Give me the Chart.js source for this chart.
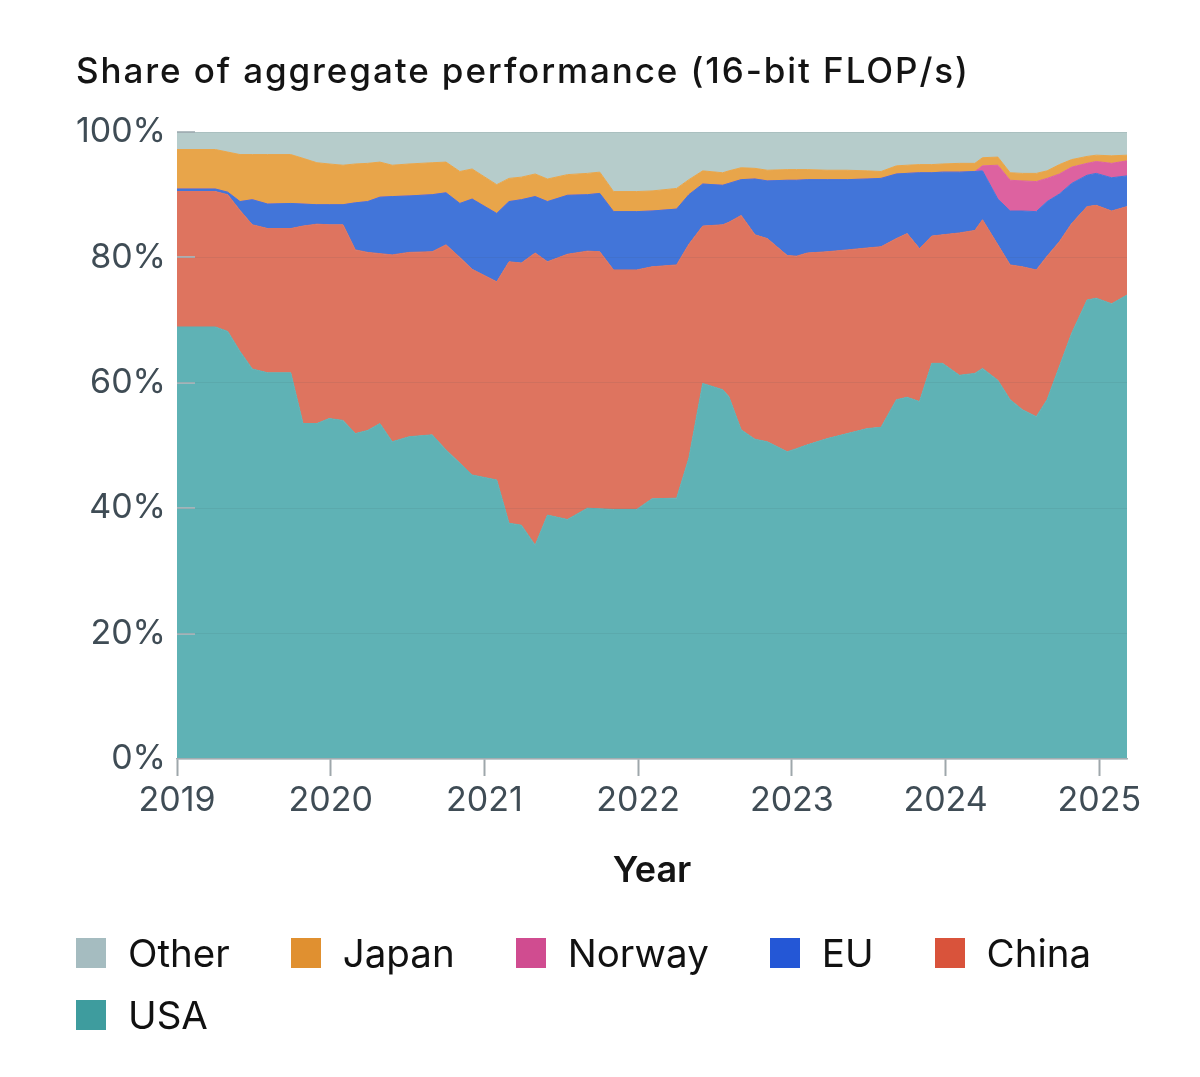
<!DOCTYPE html>
<html>
<head>
<meta charset="utf-8">
<script src="https://cdn.jsdelivr.net/npm/chart.js@4.4.1/dist/chart.umd.min.js"></script>
<style>
html,body{margin:0;padding:0;background:#fff;}
#wrap{position:relative;width:1200px;height:1077px;}
#legend{position:absolute;left:76px;top:933px;width:1100px;display:flex;flex-wrap:wrap;font-family:Inter,"Noto Sans",sans-serif;font-size:38.5px;color:#111;}
.item{display:flex;align-items:center;margin-right:61px;height:40px;margin-bottom:22px;white-space:nowrap;}
.sw{width:30px;height:30px;margin-right:22px;flex:none;}
</style>
</head>
<body>
<div id="wrap">
<canvas id="c" width="1200" height="1077"></canvas>
<div id="legend"></div>
</div>
<script>
// x positions (decimal year)
const years = [2019.00,2019.25,2019.33,2019.41,2019.49,2019.59,2019.74,2019.82,2019.91,2019.99,
2020.08,2020.16,2020.24,2020.32,2020.40,2020.51,2020.66,2020.75,2020.84,2020.92,
2021.08,2021.16,2021.24,2021.33,2021.41,2021.54,2021.67,2021.75,2021.84,2021.99,
2022.09,2022.25,2022.33,2022.42,2022.55,2022.59,2022.67,2022.76,2022.84,2022.97,
2023.03,2023.10,2023.23,2023.36,2023.49,2023.58,2023.68,2023.75,2023.83,2023.91,2023.98,
2024.09,2024.19,2024.24,2024.34,2024.42,2024.50,2024.59,2024.66,2024.74,2024.82,2024.92,2024.98,
2025.08,2025.18];

// shares (%)
const usa = [68.9,68.9,68.2,65.0,62.2,61.6,61.6,53.5,53.5,54.3,
54.0,51.9,52.4,53.5,50.6,51.4,51.7,49.3,47.2,45.3,
44.5,37.6,37.3,34.1,38.9,38.2,40.0,39.9,39.8,39.8,
41.5,41.6,48.0,59.9,58.9,57.8,52.5,51.0,50.6,49.0,
49.5,50.1,51.1,51.9,52.7,52.9,57.3,57.7,57.0,63.1,63.1,
61.2,61.5,62.3,60.4,57.3,55.7,54.6,57.3,62.6,67.9,73.2,73.5,
72.6,74.0];
const china = [21.6,21.6,21.8,22.5,23.0,23.0,23.0,31.5,31.8,30.9,
31.2,29.3,28.4,27.1,29.8,29.4,29.2,32.7,32.8,32.8,
31.6,41.7,41.8,46.6,40.4,42.3,41.0,41.0,38.2,38.2,
37.0,37.2,34.1,25.1,26.3,27.8,34.2,32.6,32.4,31.3,
30.7,30.6,29.8,29.3,28.8,28.8,25.7,26.1,24.4,20.3,20.5,
22.7,22.8,23.7,21.6,21.5,22.8,23.4,22.9,19.9,17.5,14.9,14.8,
14.8,14.1];
const eu = [0.4,0.4,0.4,1.4,4.0,3.9,4.0,3.5,3.1,3.2,
3.2,7.5,8.1,9.0,9.3,9.0,9.1,8.3,8.6,11.2,
10.9,9.6,10.1,9.0,9.6,9.4,9.0,9.3,9.3,9.3,
8.9,8.9,7.9,6.7,6.3,6.2,5.7,8.9,9.2,12.0,
12.1,11.7,11.5,11.2,11.0,10.9,10.3,9.6,12.1,10.1,10.0,
9.7,9.4,7.8,7.3,8.6,8.9,9.3,8.7,7.6,6.4,5.0,5.1,
5.3,4.9];
const norway = [0,0,0,0,0,0,0,0,0,0,
0,0,0,0,0,0,0,0,0,0,
0,0,0,0,0,0,0,0,0,0,
0,0,0,0,0,0,0,0,0,0,
0,0,0,0,0,0,0,0,0,0,0,
0,0,0.8,5.4,4.9,4.8,4.8,3.7,3.2,2.6,1.9,1.9,
2.3,2.4];
const japan = [6.3,6.3,6.4,7.5,7.2,7.9,7.8,7.3,6.7,6.5,
6.3,6.2,6.1,5.6,5.0,5.1,5.1,4.9,5.1,4.8,
4.6,3.7,3.6,3.6,3.6,3.3,3.4,3.4,3.2,3.2,
3.2,3.3,2.4,2.1,2.0,2.0,1.9,1.7,1.7,1.7,
1.7,1.6,1.5,1.5,1.3,1.1,1.3,1.3,1.3,1.3,1.3,
1.4,1.3,1.3,1.3,1.2,1.2,1.3,1.2,1.5,1.2,1.1,1.0,
1.2,0.9];
const other = [2.8,2.8,3.2,3.6,3.6,3.6,3.6,4.2,4.9,5.1,
5.3,5.1,5.0,4.8,5.3,5.1,4.9,4.8,6.3,5.9,
8.4,7.4,7.2,6.7,7.5,6.8,6.6,6.4,9.5,9.5,
9.4,9.0,7.6,6.2,6.5,6.2,5.7,5.8,6.1,6.0,
6.0,6.0,6.1,6.1,6.2,6.3,5.4,5.3,5.2,5.2,5.1,
5.0,5.0,4.1,4.0,6.5,6.6,6.6,6.2,5.2,4.4,3.9,3.7,
3.8,3.7];

const yTicks = [0,20,40,60,80,100];
const xTicks = [2019,2020,2021,2022,2023,2024,2025];

// stacking order bottom -> top
const series = [
  {name:'USA',    values:usa,    fill:'#5fb2b5', key:'#3e9c9e'},
  {name:'China',  values:china,  fill:'#de745f', key:'#d9533b'},
  {name:'EU',     values:eu,     fill:'#4275d9', key:'#2457d6'},
  {name:'Norway', values:norway, fill:'#dd62a0', key:'#d04c90'},
  {name:'Japan',  values:japan,  fill:'#e8a54a', key:'#e09030'},
  {name:'Other',  values:other,  fill:'#b6cccb', key:'#a5bcc0'}
];
const legendOrder = ['Other','Japan','Norway','EU','China','USA'];

const datasets = series.map((s,i)=>({
  label:s.name,
  data: years.map((x,j)=>({x:x, y:s.values[j]})),
  backgroundColor:s.fill,
  borderColor:s.fill,
  borderWidth:1,
  pointRadius:0,
  tension:0,
  fill: i===0 ? 'origin' : '-1'
}));

// wider tracking for the title only: the title is the only layer drawn before the datasets
const titleTracking = {
  id:'titleTracking',
  beforeDraw(chart){ chart.ctx.letterSpacing = '1.9px'; },
  beforeDatasetsDraw(chart){ chart.ctx.letterSpacing = '0px'; }
};

const leftDash = {
  id:'leftDash',
  afterDatasetsDraw(chart){
    const {ctx, chartArea, scales:{y}} = chart;
    ctx.save();
    ctx.strokeStyle = 'rgba(170,182,186,0.9)';
    ctx.lineWidth = 2;
    yTicks.forEach(v=>{
      if (v===0) return;
      const py = Math.round(y.getPixelForValue(v));
      ctx.beginPath();
      ctx.moveTo(chartArea.left, py);
      ctx.lineTo(chartArea.left+18, py);
      ctx.stroke();
    });
    ctx.restore();
  }
};

new Chart(document.getElementById('c'), {
  type:'line',
  data:{datasets},
  plugins:[titleTracking, leftDash],
  options:{
    responsive:false,
    animation:false,
    events:[],
    layout:{padding:{left:76,right:73,top:0,bottom:184}},
    plugins:{
      legend:{display:false},
      tooltip:{enabled:false},
      title:{display:true, text:'Share of aggregate performance (16-bit FLOP/s)', align:'start',
        color:'#141414', font:{family:'Inter', size:35, weight:'500', lineHeight:1.2},
        padding:{top:51,bottom:39}}
    },
    scales:{
      x:{
        type:'linear', min:xTicks[0], max:years[years.length-1],
        afterBuildTicks(s){ s.ticks = xTicks.map(v=>({value:v})); },
        ticks:{callback:v=>String(v), color:'#3f4c55', font:{family:'Inter', size:34}, padding:4, maxRotation:0, autoSkip:false, z:1},
        grid:{drawOnChartArea:false, drawTicks:true, tickLength:17, tickColor:'#9ea7ab', tickWidth:2, z:1},
        border:{display:true, color:'#a3adb1', width:1.5, z:1},
        title:{display:true, text:'Year', color:'#141414', font:{family:'Inter', size:36, weight:'600', lineHeight:1.2}, padding:0},
        afterFit(s){ s.height = 134; }
      },
      y:{
        stacked:true, min:0, max:100,
        afterBuildTicks(s){ s.ticks = yTicks.map(v=>({value:v})); },
        ticks:{callback:v=>v+'%', color:'#3f4c55', font:{family:'Inter', size:34}, padding:11, z:1},
        grid:{color:'rgba(60,80,90,0.09)', drawTicks:false, lineWidth:1, z:1},
        border:{display:false, z:1},
        afterFit(s){ s.width = 101; }
      }
    }
  }
});

const lg = document.getElementById('legend');
legendOrder.forEach(n=>{
  const s = series.find(d=>d.name===n);
  const it = document.createElement('div'); it.className='item';
  const sw = document.createElement('span'); sw.className='sw'; sw.style.background=s.key;
  const tx = document.createElement('span'); tx.textContent=n;
  it.appendChild(sw); it.appendChild(tx); lg.appendChild(it);
});
</script>
</body>
</html>
